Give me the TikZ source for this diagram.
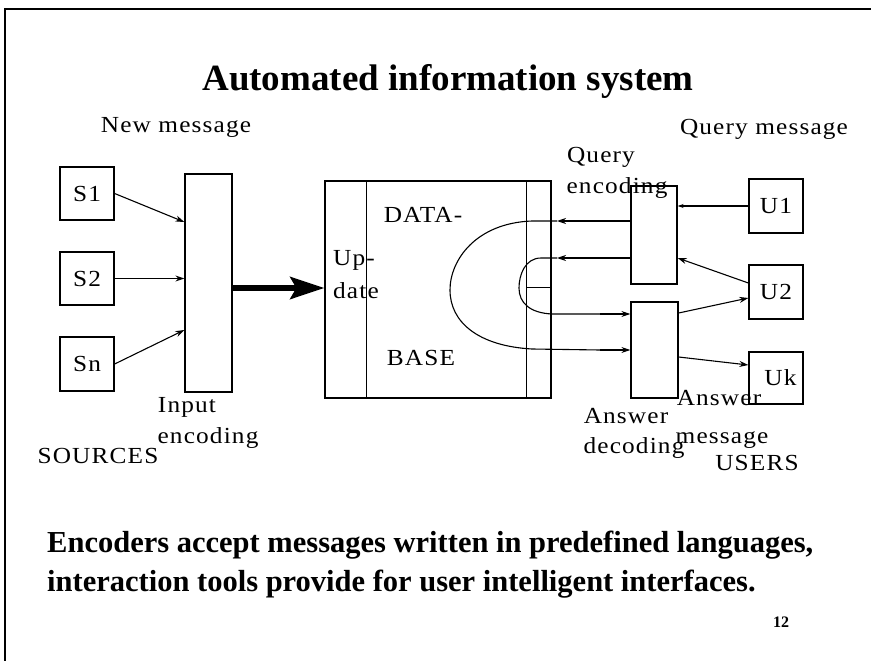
\documentclass[tikz,border=0pt]{standalone}
\usepackage{fontspec}
\setmainfont{Liberation Serif}
\newfontfamily\lblfont[LetterSpace=5,FakeStretch=1.1]{Liberation Serif}
\usetikzlibrary{arrows.meta}
\begin{document}
\begin{tikzpicture}[x=1pt,y=-1pt,
  box/.style={draw, line width=1.3pt, inner sep=0pt, font=\lblfont\fontsize{23}{26}\selectfont},
  lbl/.style={font=\lblfont\fontsize{23}{26}\selectfont, inner sep=0pt, anchor=base},
  conn/.style={line width=1.1pt, -{Stealth[length=9pt,width=6pt]}},
  curv/.style={line width=1.1pt},
  thick arrow/.style={line width=6pt, -{Stealth[length=34pt,width=22pt,inset=6pt]}},
  title/.style={font=\bfseries\fontsize{37}{40}\selectfont, inner sep=0pt, anchor=base},
  body/.style={font=\bfseries\fontsize{30.5}{34}\selectfont, inner sep=0pt, anchor=base west},
  ]
\useasboundingbox (0,0) rectangle (871,661);
\draw[line width=1.8pt] (5,661) -- (5,9) -- (871,9);

\node[title] (title) at (448,91) {Automated information system};

% sources
\node[box, minimum width=54pt, minimum height=53pt] (S1) at (87,193.5) {S1};
\node[box, minimum width=54pt, minimum height=53pt] (S2) at (87,278.5) {S2};
\node[box, minimum width=54pt, minimum height=54pt] (Sn) at (87,364) {Sn};
\node[box, minimum width=47pt, minimum height=218pt] (IE) at (208.5,283) {};

% database
\node[box, minimum width=226pt, minimum height=217pt] (DB) at (438,289.5) {};
\draw[line width=1.3pt] (DB.north west) ++(42,0) -- ++(0,217);
\draw[line width=1.3pt] (DB.north east) ++(-25,0) -- ++(0,217);
\draw[line width=1.1pt] (DB.east) ++(-25,-2) -- ++(25,0);

% encoders / decoders
\node[box, minimum width=46pt, minimum height=98pt] (QE) at (654,235) {};
\node[box, minimum width=47pt, minimum height=96pt] (AD) at (654.5,350) {};

% users
\node[box, minimum width=54pt, minimum height=54pt] (U1) at (776,206) {U1};
\node[box, minimum width=54pt, minimum height=54pt] (U2) at (776,292) {U2};
\node[box, minimum width=54pt, minimum height=52pt] (Uk) at (776,378) {\hspace*{9pt}Uk};

% labels
\node[lbl] (newmsg) at (176,132) {New message};
\node[lbl] (qmsg) at (764,134) {Query message};
\node[lbl] (query) at (601,162) {Query};
\node[lbl] (qenc) at (617,193) {encoding};
\node[lbl] (input) at (187,412) {Input};
\node[lbl] (ienc) at (208,443) {encoding};
\node[lbl] (sources) at (98,463) {SOURCES};
\node[lbl] (ans1) at (626,423) {Answer};
\node[lbl] (dec) at (634,453) {decoding};
\node[lbl] (ans2) at (719,405) {Answer};
\node[lbl] (msg) at (722,443) {message};
\node[lbl] (users) at (757,470) {USERS};
\node[lbl] (data) at (423,222) {DATA-};
\node[lbl, anchor=base west] (up) at (333,265) {Up-};
\node[lbl, anchor=base west] (date) at (333,298) {date};
\node[lbl] (base) at (421,365) {BASE};

\node[body] (line1) at (47,552) {Encoders accept messages written in predefined languages,};
\node[body] (line2) at (47,591) {interaction tools provide for user intelligent interfaces.};
\node[font=\bfseries\fontsize{16}{18}\selectfont, inner sep=0pt, anchor=base] (pg) at (781,627) {12};

% source connectors
\draw[conn] (S1.east) -- (IE.west |- 0,222);
\draw[conn] (S2.east) -- (IE.west |- S2.east);
\draw[conn] (Sn.east) -- (IE.west |- 0,330);
\draw[thick arrow] (IE.east |- 0,288) -- (DB.west |- 0,288);

% query encoding to database
\coordinate (qa) at (557,221);
\coordinate (qb) at (557,258);
\draw[conn] (QE.west |- qa) -- (qa);
\draw[conn] (QE.west |- qb) -- (qb);
\draw[curv] (qa) -- (532,221) .. controls (476,223) and (450,260) .. (450,290)
  .. controls (450,322) and (478,346) .. (532,349) -- (600,350);
\draw[conn] (600,350) -- (AD.west |- 0,350);
\draw[curv] (qb) -- (541,258) .. controls (525,258) and (519,275) .. (519,288)
  .. controls (519,303) and (530,313) .. (552,314) -- (600,314);
\draw[conn] (600,314) -- (AD.west |- 0,314);

% users connectors
\draw[line width=1.1pt, -{Stealth[length=6pt,width=4pt]}] (U1.west) -- (QE.east |- U1.west);
\draw[conn] (U2.west |- 0,283) -- (QE.east |- 0,258);
\draw[conn] (AD.east |- 0,313) -- (U2.west |- 0,298);
\draw[conn] (AD.east |- 0,357) -- (Uk.west |- 0,365);
\end{tikzpicture}
\end{document}
